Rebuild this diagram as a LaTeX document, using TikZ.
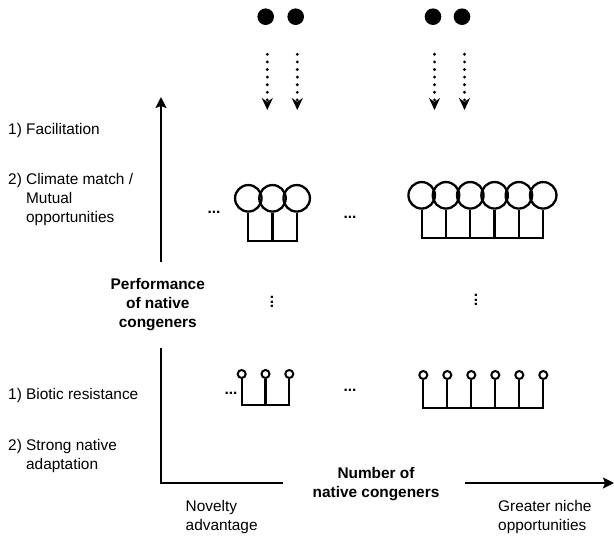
\documentclass[tikz,border=0pt]{standalone}
\usepackage{fontspec}
\setmainfont{Liberation Sans}
\usetikzlibrary{arrows.meta}
\newcommand{\labelsize}{\fontsize{15.4}{18.7}\selectfont}
\tikzset{
	bigc/.style={circle,draw,line width=2.3pt,minimum size=26.5pt,inner sep=0pt},
	smallc/.style={circle,draw,line width=2pt,minimum size=8pt,inner sep=0pt},
	stem/.style={line width=2.3pt},
	axis/.style={line width=2pt},
	lbl/.style={anchor=base west,inner sep=0pt,align=left},
	blbl/.style={anchor=base,inner sep=0pt,align=center,font=\labelsize\bfseries},
	sdot/.style={circle,fill,minimum size=16.6pt,inner sep=0pt},
	ell/.style={inner sep=0pt,font=\labelsize\bfseries},
	darrow/.style={line width=3.2pt,line cap=round,dash pattern=on 0pt off 7.6pt,-{Stealth[length=12pt,width=11pt,inset=4pt]}}
}
\begin{document}
\begin{tikzpicture}[x=1pt,y=-1pt,font=\labelsize]
	\useasboundingbox (0,0) rectangle (614,536);
	
	% incoming species
	\node [sdot] (d1) at (265.7,16.7) {};
	\node [sdot] (d2) at (295.7,16.7) {};
	\node [sdot] (d3) at (433,16.7) {};
	\node [sdot] (d4) at (462,16.7) {};
	\foreach \n/\x in {1/267.3,2/297.3,3/434.5,4/464.5}{
		\coordinate (s\n) at (\x,54.3);
		\coordinate (e\n) at (\x,110);
		\draw [darrow] (s\n) -- (e\n);
	}
	
	% axes
	\coordinate (org) at (161,483);
	\coordinate (ytop) at (161,97);
	\coordinate (yhi) at (161,262);
	\coordinate (ylo) at (161,348);
	\coordinate (xlo) at (283,483);
	\coordinate (xhi) at (465,483);
	\coordinate (xend) at (614,483);
	\draw [axis,-{Stealth[length=11pt,width=11pt,inset=2pt]}] (yhi) -- (ytop);
	\draw [axis] (ylo) -- (org) -- (xlo);
	\draw [axis,-{Stealth[length=11pt,width=11pt,inset=2pt]}] (xhi) -- (xend);
	
	% axis labels (base = last line)
	\node [blbl] (perf) at (157.8,327) {Performance\\of native\\congeners};
	\node [blbl] (num) at (376,497) {Number of\\native congeners};
	\node [lbl] (nov) at (185.5,530.5) {Novelty\\advantage};
	\node [lbl] (gre) at (498,530.5) {Greater niche\\opportunities};
	
	\node [lbl] (fac) at (8,134) {1) Facilitation};
	\node [lbl] (cli) at (8,222) {2) Climate match /\\\phantom{2) }Mutual\\\phantom{2) }opportunities};
	\node [lbl] (bio) at (8,399) {1) Biotic resistance};
	\node [lbl] (str) at (8,469.5) {2) Strong native\\\phantom{2) }adaptation};
	
	% well performing congeners
	\coordinate (ubarA) at (0,240.7);
	\foreach \i in {1,2,3}
		\node [bigc] (ua\i) at ({248.3+24.2*(\i-1)},198.3) {};
	\draw [stem] (ua1.south) |- (ua3.south |- ubarA) -- (ua3.south);
	\draw [stem] (ua2.south) -- (ua2.south |- ubarA);
	
	\coordinate (ubarB) at (0,237.7);
	\foreach \i in {1,...,6}
		\node [bigc] (ub\i) at ({421.7+24.3*(\i-1)},195.3) {};
	\draw [stem] (ub1.south) |- (ub6.south |- ubarB) -- (ub6.south);
	\foreach \i in {2,...,5}
		\draw [stem] (ub\i.south) -- (ub\i.south |- ubarB);
	
	% poorly performing congeners
	\coordinate (lbarA) at (0,405);
	\foreach \i in {1,2,3}
		\node [smallc] (la\i) at ({241.7+23.8*(\i-1)},374) {};
	\draw [stem] (la1.south) |- (la3.south |- lbarA) -- (la3.south);
	\draw [stem] (la2.south) -- (la2.south |- lbarA);
	
	\coordinate (lbarB) at (0,408);
	\foreach \i in {1,...,6}
		\node [smallc] (lb\i) at ({423.3+24*(\i-1)},375) {};
	\draw [stem] (lb1.south) |- (lb6.south |- lbarB) -- (lb6.south);
	\foreach \i in {2,...,5}
		\draw [stem] (lb\i.south) -- (lb\i.south |- lbarB);
	
	% dots in between
	\node [ell] (e1) at (214,212) {...};
	\node [ell] (e2) at (350,217) {...};
	\node [ell] (e3) at (231,393) {...};
	\node [ell] (e4) at (350,390) {...};
	\node [ell,rotate=90] (v1) at (272,302) {...};
	\node [ell,rotate=90] (v2) at (476,300) {...};
\end{tikzpicture}
\end{document}
